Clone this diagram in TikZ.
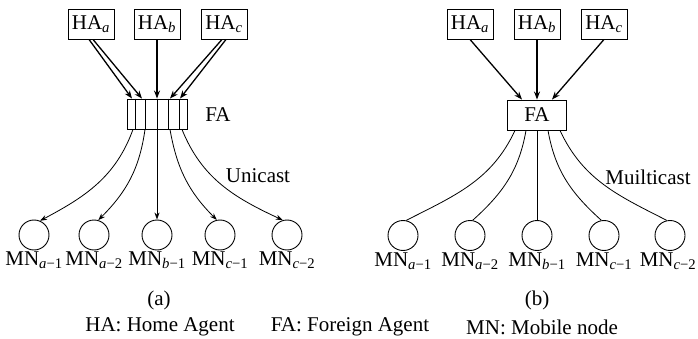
\documentclass[tikz,border=0pt]{standalone}
\usepackage{fontspec}
\setmainfont{Liberation Serif}
\usetikzlibrary{arrows.meta,positioning}

\begin{document}
\begin{tikzpicture}[x=1pt,y=1pt,
  every node/.style={font=\fontsize{21}{24}\selectfont},
  agent/.style={draw,line width=0.9pt,minimum width=46pt,minimum height=30pt,inner sep=0pt},
  mnode/.style={draw,circle,line width=0.9pt,minimum size=30pt,inner sep=0pt},
  haarrow/.style={line width=1.3pt,-{Stealth[length=8pt,width=6pt]}},
  unilink/.style={line width=0.8pt,-{Stealth[length=7pt,width=5pt]}},
  multilink/.style={line width=0.8pt}]
\useasboundingbox (0,0) rectangle (698,-339);

% (a) Home agents
\node[agent] (haa) at (91,-24) {HA\textsubscript{\textit{a}}};
\node[agent] (hab) at (157,-24) {HA\textsubscript{\textit{b}}};
\node[agent] (hac) at (224,-24) {HA\textsubscript{\textit{c}}};

% (a) Foreign agent queue
\node[draw,line width=0.9pt,minimum width=60pt,minimum height=30pt,inner sep=0pt] (faq) at (157,-114) {};
\foreach \x in {135,145,157,168,179}
  \draw[line width=0.9pt] (\x,0 |- faq.north) -- (\x,0 |- faq.south);
\node (faqlabel) at (218,-115) {FA};

% (a) Mobile nodes
\node[mnode] (mna1) at (34,-235) {};
\node[mnode] (mna2) at (94,-235) {};
\node[mnode] (mna3) at (157,-235) {};
\node[mnode] (mna4) at (220,-235) {};
\node[mnode] (mna5) at (287,-235) {};
\node[below=-2pt of mna1] (lna1) {MN\textsubscript{\textit{a}−1}};
\node[below=-2pt of mna2] (lna2) {MN\textsubscript{\textit{a}−2}};
\node[below=-2pt of mna3] (lna3) {MN\textsubscript{\textit{b}−1}};
\node[below=-2pt of mna4] (lna4) {MN\textsubscript{\textit{c}−1}};
\node[below=-2pt of mna5] (lna5) {MN\textsubscript{\textit{c}−2}};

% (a) HA to FA
\draw[haarrow] ([xshift=-2pt]haa.south) -- ([xshift=-25pt]faq.north);
\draw[haarrow] ([xshift=2pt]haa.south) -- ([xshift=-15pt]faq.north);
\draw[haarrow] (hab.south) -- (faq.north);
\draw[haarrow] ([xshift=-2pt]hac.south) -- ([xshift=13pt]faq.north);
\draw[haarrow] ([xshift=2pt]hac.south) -- ([xshift=23pt]faq.north);

% (a) Unicast
\draw[unilink] ([xshift=-24pt]faq.south) to[out=-110,in=28] (mna1.67);
\draw[unilink] ([xshift=-12pt]faq.south) to[out=-98,in=45] (mna2.74);
\draw[unilink] (faq.south) -- (mna3.north);
\draw[unilink] ([xshift=13pt]faq.south) to[out=-80,in=135] (mna4.102);
\draw[unilink] ([xshift=25pt]faq.south) to[out=-68,in=155] (mna5.106);
\node (unicast) at (258,-176) {Unicast};

% (b) Home agents
\node[agent] (hba) at (470,-24) {HA\textsubscript{\textit{a}}};
\node[agent] (hbb) at (537,-24) {HA\textsubscript{\textit{b}}};
\node[agent] (hbc) at (604,-24) {HA\textsubscript{\textit{c}}};

% (b) Foreign agent
\node[agent,minimum width=59pt] (fab) at (537,-115) {FA};

% (b) Mobile nodes
\node[mnode] (mnb1) at (403,-235.5) {};
\node[mnode] (mnb2) at (470,-235.5) {};
\node[mnode] (mnb3) at (537,-235.5) {};
\node[mnode] (mnb4) at (604,-235.5) {};
\node[mnode] (mnb5) at (670,-235.5) {};
\node[below=-2pt of mnb1] (lnb1) {MN\textsubscript{\textit{a}−1}};
\node[below=-2pt of mnb2] (lnb2) {MN\textsubscript{\textit{a}−2}};
\node[below=-2pt of mnb3] (lnb3) {MN\textsubscript{\textit{b}−1}};
\node[below=-2pt of mnb4] (lnb4) {MN\textsubscript{\textit{c}−1}};
\node[below=-2pt of mnb5,xshift=-2pt] (lnb5) {MN\textsubscript{\textit{c}−2}};

% (b) HA to FA
\draw[haarrow] (hba.south) -- ([xshift=-15pt]fab.north);
\draw[haarrow] (hbb.south) -- (fab.north);
\draw[haarrow] (hbc.south) -- ([xshift=15pt]fab.north);

% (b) Multicast
\draw[multilink] ([xshift=-22pt]fab.south) to[out=-115,in=27] (mnb1.78);
\draw[multilink] ([xshift=-11pt]fab.south) to[out=-100,in=42] (mnb2.80);
\draw[multilink] (fab.south) -- (mnb3.north);
\draw[multilink] ([xshift=11pt]fab.south) to[out=-80,in=138] (mnb4.100);
\draw[multilink] ([xshift=23pt]fab.south) to[out=-65,in=153] (mnb5.102);
\node (multicast) at (648,-177) {Muilticast};

% Captions
\node (capa) at (159,-300) {(a)};
\node (capb) at (537,-300) {(b)};
\node (keyha) at (160,-327) {HA: Home Agent};
\node (keyfa) at (350,-327) {FA: Foreign Agent};
\node (keymn) at (542,-327) {MN: Mobile node};
\end{tikzpicture}
\end{document}
